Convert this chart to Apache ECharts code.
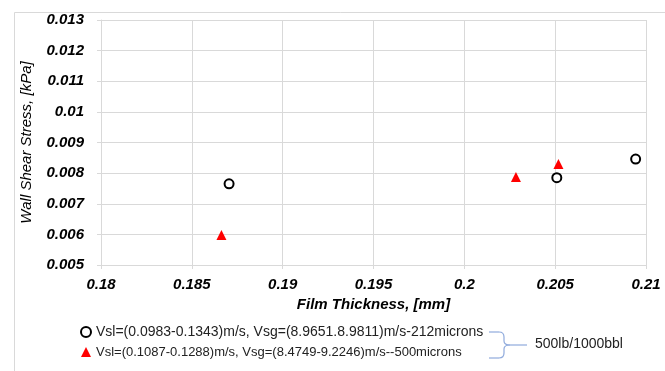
<!DOCTYPE html>
<html>
<head>
<meta charset="utf-8">
<script src="https://cdn.jsdelivr.net/npm/echarts@6/dist/echarts.min.js"></script>
<style>html,body{margin:0;padding:0;background:#fff;}#c{width:665px;height:371px;}</style>
</head>
<body>
<div id="c"></div>
<script>
// Data
const seriesNames = [
  'Vsl=(0.0983-0.1343)m/s, Vsg=(8.9651.8.9811)m/s-212microns',
  'Vsl=(0.1087-0.1288)m/s, Vsg=(8.4749-9.2246)m/s--500microns'
];
const filmThickness212 = [0.18705, 0.20509, 0.20943];
const shearStress212   = [0.00765, 0.00785, 0.00846];
const filmThickness500 = [0.18663, 0.20284, 0.20518];
const shearStress500   = [0.00598, 0.00787, 0.00830];
const bracketLabel = '500lb/1000bbl';
const xAxisTitle = 'Film Thickness, [mm]';
const yAxisTitle = 'Wall Shear Stress, [kPa]';

const chart = echarts.init(document.getElementById('c'));
const pair = (xs, ys) => xs.map((x, i) => [x, ys[i]]);
const tickFont = {fontFamily: 'Liberation Sans', fontWeight: 'bold', fontStyle: 'italic', fontSize: 15, color: '#000'};
const gridColor = '#d9d9d9';
const braceStyle = {fill: 'none', stroke: '#8faadc', lineWidth: 1.2};

// brace drawn as a set of graphic primitives (positions only, no data)
const bx = 489, by = 331;
const braceParts = [
  {type: 'line', shape: {x1: bx, y1: by + 1, x2: bx + 10, y2: by + 1}},
  {type: 'bezierCurve', shape: {x1: bx + 10, y1: by + 1, x2: bx + 15, y2: by + 6, cpx1: bx + 15, cpy1: by + 1}},
  {type: 'line', shape: {x1: bx + 15, y1: by + 6, x2: bx + 15, y2: by + 10}},
  {type: 'bezierCurve', shape: {x1: bx + 15, y1: by + 10, x2: bx + 21, y2: by + 14, cpx1: bx + 15, cpy1: by + 14}},
  {type: 'bezierCurve', shape: {x1: bx + 21, y1: by + 14, x2: bx + 15, y2: by + 18, cpx1: bx + 15, cpy1: by + 14}},
  {type: 'line', shape: {x1: bx + 15, y1: by + 18, x2: bx + 15, y2: by + 22}},
  {type: 'bezierCurve', shape: {x1: bx + 15, y1: by + 22, x2: bx + 10, y2: by + 27, cpx1: bx + 15, cpy1: by + 27}},
  {type: 'line', shape: {x1: bx + 10, y1: by + 27, x2: bx, y2: by + 27}},
  {type: 'line', shape: {x1: bx + 21, y1: by + 14, x2: bx + 38, y2: by + 14}}
].map(p => Object.assign(p, {silent: true, style: braceStyle}));

chart.setOption({
  animation: false,
  backgroundColor: '#fff',
  grid: {left: 101, right: 19, top: 20, bottom: 106},
  xAxis: {
    type: 'value', min: 0.18, max: 0.21, interval: 0.005,
    name: xAxisTitle, nameLocation: 'middle', nameGap: 29,
    nameTextStyle: {fontFamily: 'Liberation Sans', fontWeight: 'bold', fontStyle: 'italic', fontSize: 15, color: '#000'},
    axisLine: {show: true, lineStyle: {color: gridColor}},
    axisTick: {show: true, length: 4, lineStyle: {color: gridColor}},
    axisLabel: Object.assign({margin: 12}, tickFont),
    splitLine: {show: true, lineStyle: {color: gridColor}}
  },
  yAxis: {
    type: 'value', min: 0.005, max: 0.013, interval: 0.001,
    name: yAxisTitle, nameLocation: 'middle', nameGap: 67, nameRotate: 90,
    nameTextStyle: {fontFamily: 'Liberation Sans', fontStyle: 'italic', fontSize: 15, color: '#000'},
    axisLine: {show: true, lineStyle: {color: gridColor}},
    axisTick: {show: true, length: 4, lineStyle: {color: gridColor}},
    axisLabel: Object.assign({margin: 17}, tickFont),
    splitLine: {show: true, lineStyle: {color: gridColor}}
  },
  legend: {
    orient: 'vertical', left: 80, top: 325, padding: 0,
    itemWidth: 10, itemHeight: 10, itemGap: 6,
    textStyle: {
      fontFamily: 'Liberation Sans', fontSize: 14, lineHeight: 14, color: '#222',
      rich: {s: {fontFamily: 'Liberation Sans', fontSize: 13, lineHeight: 14, color: '#222'}}
    },
    formatter: name => name === seriesNames[1] ? '{s|' + name + '}' : name,
    data: [
      {name: seriesNames[0], icon: 'circle', itemStyle: {color: '#fff', borderColor: '#000', borderWidth: 2}},
      {name: seriesNames[1], icon: 'triangle', itemStyle: {color: '#ff0000', borderWidth: 0}}
    ]
  },
  series: [
    {
      name: seriesNames[0], type: 'scatter', symbol: 'circle', symbolSize: 9,
      itemStyle: {color: '#fff', borderColor: '#000', borderWidth: 2, opacity: 1},
      data: pair(filmThickness212, shearStress212)
    },
    {
      name: seriesNames[1], type: 'scatter', symbol: 'triangle', symbolSize: 10,
      itemStyle: {color: '#ff0000', opacity: 1},
      data: pair(filmThickness500, shearStress500)
    }
  ],
  graphic: [
    {type: 'rect', left: 12, top: 10, silent: true,
     shape: {width: 700, height: 400}, style: {fill: 'none', stroke: '#d9d9d9', lineWidth: 1}}
  ].concat(braceParts).concat([
    {type: 'text', silent: true, left: 535, top: 337,
     style: {text: bracketLabel, fontFamily: 'Liberation Sans', fontSize: 14, fill: '#222'}}
  ])
});
</script>
</body>
</html>
